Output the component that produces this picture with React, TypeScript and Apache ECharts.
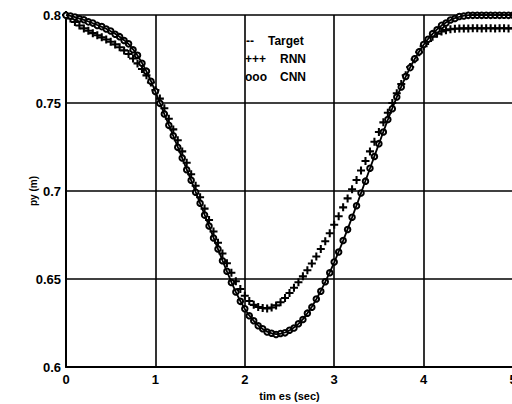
import React, { useEffect, useRef } from "react";
import * as echarts from "echarts";

const times = [
  0.0, 0.05, 0.1, 0.15, 0.2, 0.25, 0.3, 0.35, 0.4, 0.45,
  0.5, 0.55, 0.6, 0.65, 0.7, 0.75, 0.8, 0.85, 0.9, 0.95,
  1.0, 1.05, 1.1, 1.15, 1.2, 1.25, 1.3, 1.35, 1.4, 1.45,
  1.5, 1.55, 1.6, 1.65, 1.7, 1.75, 1.8, 1.85, 1.9, 1.95,
  2.0, 2.05, 2.1, 2.15, 2.2, 2.25, 2.3, 2.35, 2.4, 2.45,
  2.5, 2.55, 2.6, 2.65, 2.7, 2.75, 2.8, 2.85, 2.9, 2.95,
  3.0, 3.05, 3.1, 3.15, 3.2, 3.25, 3.3, 3.35, 3.4, 3.45,
  3.5, 3.55, 3.6, 3.65, 3.7, 3.75, 3.8, 3.85, 3.9, 3.95,
  4.0, 4.05, 4.1, 4.15, 4.2, 4.25, 4.3, 4.35, 4.4, 4.45,
  4.5, 4.55, 4.6, 4.65, 4.7, 4.75, 4.8, 4.85, 4.9, 4.95,
  5.0,
];

const targetValues = [
  0.8, 0.7995, 0.7988, 0.798, 0.7972, 0.7963, 0.7953, 0.7943, 0.7933, 0.7922,
  0.7908, 0.7893, 0.7876, 0.7857, 0.7835, 0.7805, 0.777, 0.7728, 0.768, 0.7625,
  0.7565, 0.75, 0.7437, 0.7375, 0.7313, 0.725, 0.7187, 0.7123, 0.706, 0.6995,
  0.693, 0.6865, 0.68, 0.6735, 0.667, 0.6606, 0.6543, 0.6482, 0.6425, 0.6375,
  0.633, 0.6293, 0.6262, 0.6236, 0.6216, 0.6201, 0.6191, 0.6187, 0.6189, 0.6196,
  0.6208, 0.6224, 0.6245, 0.6272, 0.6305, 0.6342, 0.6385, 0.6432, 0.6483, 0.6538,
  0.6595, 0.6655, 0.6718, 0.6783, 0.685, 0.6918, 0.6988, 0.7058, 0.7128, 0.7198,
  0.7268, 0.7337, 0.7405, 0.747, 0.7533, 0.7593, 0.765, 0.7703, 0.775, 0.7793,
  0.7831, 0.7864, 0.7893, 0.7918, 0.794, 0.7957, 0.7971, 0.7982, 0.799, 0.7996,
  0.7999, 0.8, 0.8, 0.8, 0.8, 0.8, 0.8, 0.8, 0.8, 0.8,
  0.8,
];

const cnnValues = [
  0.7998, 0.7994, 0.7989, 0.7979, 0.7973, 0.7961, 0.7954, 0.7941, 0.7934, 0.792,
  0.7909, 0.7891, 0.7877, 0.7855, 0.7836, 0.7803, 0.7771, 0.7726, 0.7681, 0.7623,
  0.7566, 0.7498, 0.7438, 0.7373, 0.7314, 0.7248, 0.7188, 0.7121, 0.7061, 0.6993,
  0.6931, 0.6863, 0.6801, 0.6733, 0.6671, 0.6604, 0.6544, 0.648, 0.6426, 0.6373,
  0.6331, 0.6291, 0.6263, 0.6234, 0.6217, 0.6199, 0.6192, 0.6185, 0.619, 0.6194,
  0.6209, 0.6222, 0.6246, 0.627, 0.6306, 0.634, 0.6386, 0.643, 0.6484, 0.6536,
  0.6596, 0.6653, 0.6719, 0.6781, 0.6851, 0.6916, 0.6989, 0.7056, 0.7129, 0.7196,
  0.7269, 0.7335, 0.7406, 0.7468, 0.7534, 0.7591, 0.7651, 0.7701, 0.7751, 0.7791,
  0.7832, 0.7862, 0.7894, 0.7916, 0.7941, 0.7955, 0.7972, 0.798, 0.7991, 0.7994,
  0.7998, 0.7998, 0.7999, 0.7998, 0.7999, 0.7998, 0.7999, 0.7998, 0.7999, 0.7998,
  0.7999,
];

const rnnValues = [
  0.8, 0.798, 0.796, 0.794, 0.7924, 0.791, 0.7897, 0.7885, 0.7873, 0.7861,
  0.7848, 0.7833, 0.7817, 0.7799, 0.7778, 0.7753, 0.7725, 0.7693, 0.7657, 0.7617,
  0.7573, 0.7525, 0.747, 0.741, 0.735, 0.7288, 0.7225, 0.716, 0.7095, 0.703,
  0.6965, 0.69, 0.6835, 0.677, 0.6706, 0.6645, 0.659, 0.6535, 0.6487, 0.6443,
  0.6405, 0.6375, 0.6353, 0.6341, 0.6335, 0.6333, 0.6338, 0.635, 0.6368, 0.6392,
  0.642, 0.645, 0.6482, 0.6515, 0.655, 0.6588, 0.6628, 0.667, 0.6714, 0.676,
  0.6808, 0.6857, 0.6907, 0.6958, 0.701, 0.7063, 0.7116, 0.717, 0.7225, 0.728,
  0.7335, 0.739, 0.7445, 0.75, 0.7555, 0.7608, 0.7658, 0.7705, 0.7748, 0.7788,
  0.7822, 0.7852, 0.7876, 0.7894, 0.7906, 0.7914, 0.7919, 0.7922, 0.7923, 0.7924,
  0.7924, 0.7925, 0.7925, 0.7924, 0.7925, 0.7925, 0.7924, 0.7925, 0.7925, 0.7924,
  0.7925,
];

const legendSymbols = ["--", "+++", "ooo"];
const legendNames = ["Target", "RNN", "CNN"];

const FONT = "'Liberation Sans', Arial, sans-serif";
const PLUS = "path://M2.6,0H4.4V2.6H7V4.4H4.4V7H2.6V4.4H0V2.6H2.6Z";

export default function App() {
  const ref = useRef<HTMLDivElement>(null);

  useEffect(() => {
    if (!ref.current) return;
    const chart = echarts.init(ref.current, undefined, { renderer: "svg" });
    const pairs = (vals: number[]) => times.map((t, i) => [t, vals[i]]);

    const legendY = [42, 60, 78];
    const symX = [246, 245, 245];
    const nameX = [268, 280, 280];
    const graphic: any[] = [];
    legendNames.forEach((n, i) => {
      graphic.push({
        type: "text",
        left: symX[i],
        top: legendY[i] - 7,
        z: 100,
        style: { text: legendSymbols[i], font: `bold 12px ${FONT}`, fill: "#000" },
      });
      graphic.push({
        type: "text",
        left: nameX[i],
        top: legendY[i] - 7,
        z: 100,
        style: { text: n, font: `bold 12px ${FONT}`, fill: "#000" },
      });
    });

    chart.setOption({
      animation: false,
      backgroundColor: "#fff",
      grid: {
        left: 66,
        top: 15,
        bottom: 37,
        width: 447,
        containLabel: false,
        outerBoundsMode: "none",
      },
      xAxis: {
        type: "value",
        min: 0,
        max: 5,
        interval: 1,
        name: "tim es (sec)",
        nameLocation: "middle",
        nameGap: 23,
        nameMoveOverlap: false,
        nameTextStyle: { fontFamily: FONT, fontWeight: "bold", fontSize: 11, color: "#000" },
        axisLine: { show: true, onZero: false, lineStyle: { color: "#000", width: 2 } },
        axisTick: { show: false },
        axisLabel: {
          color: "#000",
          fontFamily: FONT,
          fontWeight: "bold",
          fontSize: 13,
          margin: 6,
          hideOverlap: false,
          showMaxLabel: true,
        },
        splitLine: { show: true, lineStyle: { color: "#000", width: 1.6 } },
      },
      yAxis: {
        type: "value",
        min: 0.6,
        max: 0.8,
        interval: 0.05,
        name: "py (m)",
        nameLocation: "middle",
        nameGap: 28,
        nameMoveOverlap: false,
        nameTextStyle: { fontFamily: FONT, fontWeight: "bold", fontSize: 10, color: "#000" },
        axisLine: { show: true, onZero: false, lineStyle: { color: "#000", width: 2 } },
        axisTick: { show: false },
        axisLabel: {
          color: "#000",
          fontFamily: FONT,
          fontWeight: "bold",
          fontSize: 13,
          margin: 5,
          formatter: (v: number) => String(parseFloat(v.toFixed(2))),
        },
        splitLine: { show: true, lineStyle: { color: "#000", width: 1.6 } },
      },
      legend: { show: false },
      graphic,
      series: [
        {
          name: "RNN",
          type: "line",
          data: pairs(rnnValues),
          symbol: PLUS,
          symbolSize: 8,
          showSymbol: true,
          lineStyle: { width: 0, opacity: 0 },
          itemStyle: { color: "#000" },
          z: 3,
        },
        {
          name: "CNN",
          type: "line",
          data: pairs(cnnValues),
          symbol: "emptyCircle",
          symbolSize: 5.5,
          showSymbol: true,
          lineStyle: { width: 0, opacity: 0 },
          itemStyle: { color: "#000", borderColor: "#000", borderWidth: 1.3 },
          z: 4,
        },
        {
          name: "Target",
          type: "line",
          data: pairs(targetValues),
          symbol: "none",
          lineStyle: { color: "#000", width: 1.8 },
          z: 5,
        },
      ],
    });
    return () => chart.dispose();
  }, []);

  return (
    <div
      ref={ref}
      style={{ position: "fixed", left: 0, top: 0, width: 512, height: 404, background: "#fff" }}
    />
  );
}
